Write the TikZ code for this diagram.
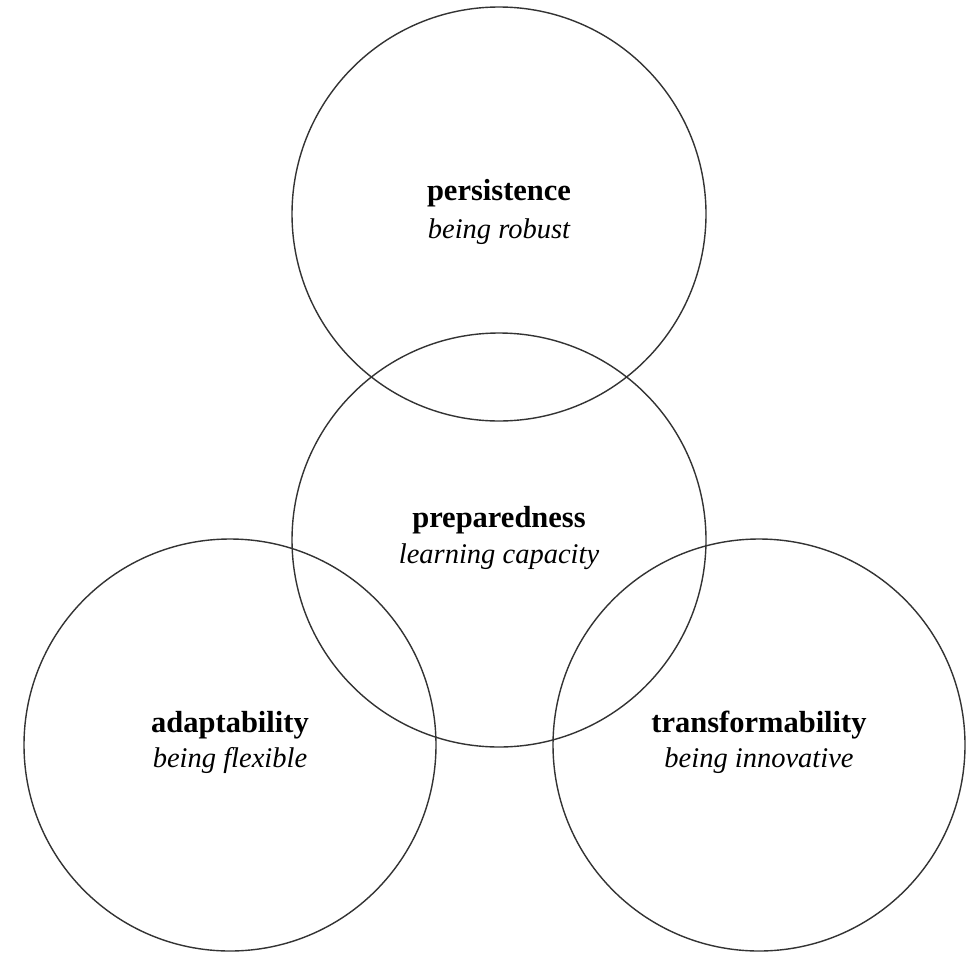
\documentclass[tikz,border=0pt]{standalone}
\usepackage{fontspec}
\setmainfont{Liberation Serif}
\begin{document}
\begin{tikzpicture}[x=1pt,y=-1pt,
  ring/.style={circle, draw=black!80, line width=1.4pt, inner sep=0pt, minimum size=#1},
  head/.style={anchor=base, inner sep=0pt, font=\fontsize{30.5}{36}\selectfont\bfseries},
  sub/.style={anchor=base, inner sep=0pt, font=\fontsize{28.5}{34}\selectfont\itshape}]
\useasboundingbox[fill=white] (0,0) rectangle (979,953);
\node[ring=414pt] (ctop) at (499,214) {};
\node[ring=414pt] (cmid) at (499,540) {};
\node[ring=412pt] (cleft) at (230,745) {};
\node[ring=412pt] (cright) at (759,745) {};
\node[head] (ttop) at (499,200) {persistence};
\node[sub] (stop) at (499,238) {being robust};
\node[head] (tmid) at (499,527) {preparedness};
\node[sub] (smid) at (499,563) {learning capacity};
\node[head] (tleft) at (230,732) {adaptability};
\node[sub] (sleft) at (230,767) {being flexible};
\node[head] (tright) at (759,732) {transformability};
\node[sub] (sright) at (759,767) {being innovative};
\end{tikzpicture}
\end{document}
